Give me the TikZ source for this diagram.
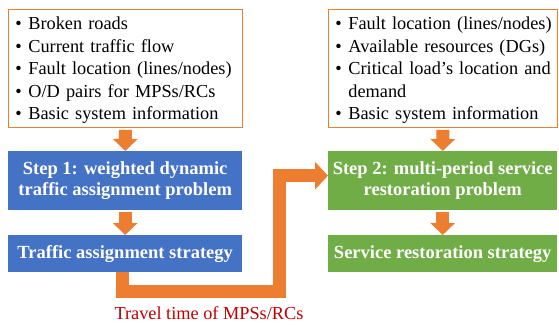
\documentclass[tikz,border=0pt]{standalone}
\usepackage{fontspec}
\setmainfont{Liberation Serif}
\usetikzlibrary{arrows.meta}
\definecolor{stepblue}{HTML}{4472C4}
\definecolor{stepgreen}{HTML}{70AD47}
\definecolor{flow}{HTML}{ED7D31}
\definecolor{darkred}{HTML}{C00000}
\newcommand{\itm}{\hspace*{4pt}\makebox[13pt][l]{\textbullet}}
\newcommand{\topstrut}{\rule{0pt}{16.4pt}}
\begin{document}
\begin{tikzpicture}[x=1pt,y=-1pt,
    inbox/.style={draw=flow,line width=0.8pt,fill=white,anchor=north west,
      align=left,inner xsep=3pt,inner ysep=0pt,minimum height=118pt,
      font=\fontsize{18.3}{22.6}\selectfont},
    stepbox/.style={anchor=north west,text=white,align=center,inner sep=0pt,
      font=\bfseries\fontsize{18.5}{21}\selectfont},
    smallarrow/.style={draw=flow,line width=13pt,shorten <=2pt,
      -{Triangle[width=24pt,length=12pt]}},
    bigarrow/.style={draw=flow,line width=13pt,line join=miter,
      -{Triangle[width=27pt,length=13pt]}}]
  \useasboundingbox (0,0) rectangle (559,324);
  % inputs
  \node[inbox,minimum width=234pt,text width=228pt] (in1) at (8,9)
    {\topstrut\itm Broken roads\\
     \itm Current traffic flow\\
     \itm Fault location (lines/nodes)\\
     \itm O/D pairs for MPSs/RCs\\
     \itm Basic system information};
  \node[inbox,minimum width=229pt,text width=223pt] (in2) at (328,9)
    {\topstrut\itm Fault location (lines/nodes)\\
     \itm Available resources (DGs)\\
     \itm Critical load's location and\\
     \hspace*{17pt}demand\\
     \itm Basic system information};
  % steps
  \node[stepbox,fill=stepblue,minimum width=234pt,minimum height=59pt] (s1) at (8,151)
    {Step 1: weighted dynamic\\traffic assignment problem};
  \node[stepbox,fill=stepblue,minimum width=234pt,minimum height=37pt] (tas) at (8,235)
    {Traffic assignment strategy};
  \node[stepbox,fill=stepgreen,minimum width=229pt,minimum height=59pt] (s2) at (328,151)
    {Step 2: multi-period service\\restoration problem};
  \node[stepbox,fill=stepgreen,minimum width=229pt,minimum height=37pt] (srs) at (328,235)
    {Service restoration strategy};
  % arrows
  \draw[smallarrow] (in1) -- (s1);
  \draw[smallarrow] (s1) -- (tas);
  \draw[smallarrow] (in2) -- (s2);
  \draw[smallarrow] (s2) -- (srs);
  \coordinate (bend) at (279,291);
  \draw[bigarrow] ([xshift=-2.3pt]tas.south) |- (bend) |- ([yshift=5pt]s2.west);
  \node[text=darkred,font=\fontsize{18.3}{21}\selectfont] (tt) at (209,313)
    {Travel time of MPSs/RCs};
\end{tikzpicture}
\end{document}
